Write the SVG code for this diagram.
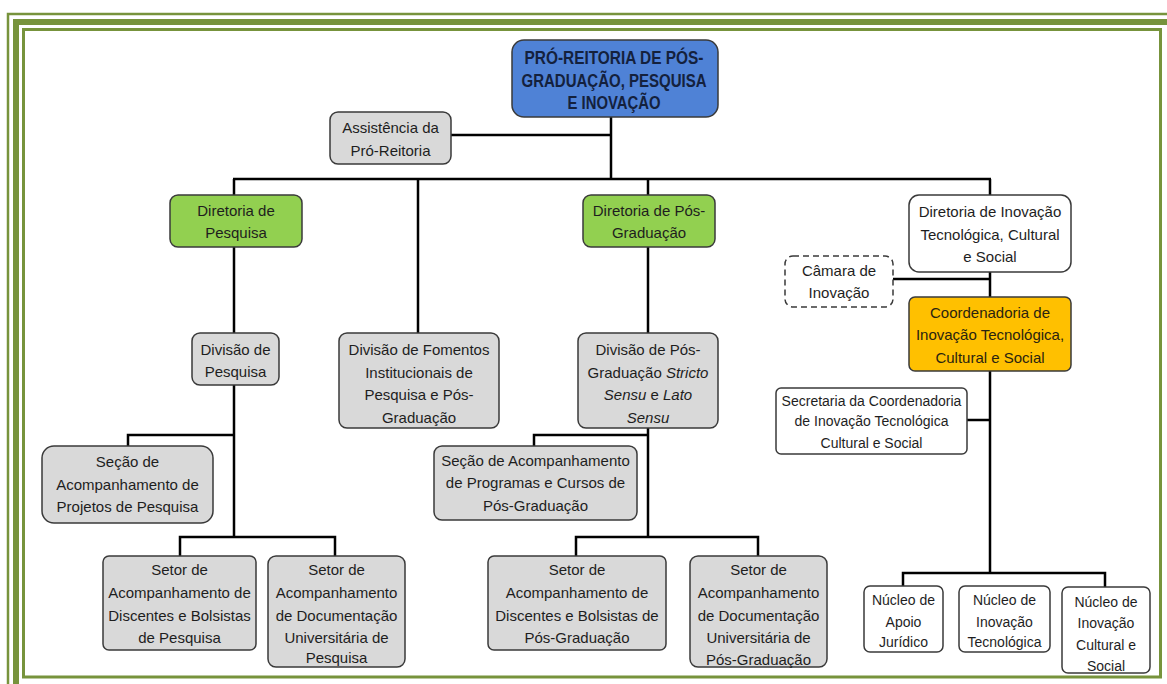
<svg xmlns="http://www.w3.org/2000/svg" width="1167" height="684" viewBox="0 0 1167 684">
<style>
.b{stroke:#3a3a3a;stroke-width:1.5}
.g{fill:#d9d9d9}
.w{fill:#ffffff}
.gr{fill:#92d050}
.t{font-family:"Liberation Sans",Arial,sans-serif;font-size:15px;fill:#1e1e1e;text-anchor:middle}
.s{font-size:14px}
.i{font-style:italic}
.c{stroke:#000;stroke-width:2.5;fill:none}
.brd{fill:none;stroke:#77933c}
</style>
<rect width="1167" height="684" fill="#ffffff"/>
<g id="border">
<path class="brd" d="M8,684 V14 H1167" stroke-width="2.5"/>
<path class="brd" d="M16,684 V22 H1167" stroke-width="6"/>
<path class="brd" d="M23.5,677 V29.5 H1160.5 V677 Z" stroke-width="3"/>
</g>
<g id="connectors">
<path class="c" d="M611,117 V180"/>
<path class="c" d="M451,135 H611"/>
<path class="c" d="M233,179 H991"/>
<path class="c" d="M234,179 V195 M418,179 V333 M648,179 V195 M990,179 V195"/>
<path class="c" d="M234,247 V333 M234,385 V537 M128,446 V435 H234 M180,556 V537 H335 V556"/>
<path class="c" d="M648,247 V333 M648,428 V537 M534,446 V435 H648 M576,556 V537 H758 V556"/>
<path class="c" d="M990,272 V297 M893,279 H990 M990,371 V573 M967,420 H990 M903,586 V573 H1105 V587"/>
</g>
<g id="n-pro-reitoria">
<rect x="512" y="40" width="206" height="77" rx="12" fill="#4f82d6" class="b"/>
<text class="t" style="font-weight:bold;font-size:18px;fill:#14213d"><tspan x="614" y="64" textLength="179" lengthAdjust="spacingAndGlyphs">PRÓ-REITORIA DE PÓS-</tspan><tspan x="614" y="87" textLength="185" lengthAdjust="spacingAndGlyphs">GRADUAÇÃO, PESQUISA</tspan><tspan x="614" y="109" textLength="93" lengthAdjust="spacingAndGlyphs">E INOVAÇÃO</tspan></text>
</g>
<g id="n-assistencia">
<rect x="330" y="112" width="121" height="52" rx="8" class="b g"/>
<text class="t"><tspan x="390.5" y="133">Assistência da</tspan><tspan x="390.5" y="156">Pró-Reitoria</tspan></text>
</g>
<g id="n-dir-pesquisa">
<rect x="170" y="195" width="132" height="52" rx="8" class="b gr"/>
<text class="t"><tspan x="236" y="216">Diretoria de</tspan><tspan x="236" y="238">Pesquisa</tspan></text>
</g>
<g id="n-div-pesquisa">
<rect x="192" y="333" width="87" height="52" rx="8" class="b g"/>
<text class="t"><tspan x="235.5" y="355">Divisão de</tspan><tspan x="235.5" y="377">Pesquisa</tspan></text>
</g>
<g id="n-div-fomentos">
<rect x="339" y="333" width="160" height="95" rx="8" class="b g"/>
<text class="t"><tspan x="419" y="355">Divisão de Fomentos</tspan><tspan x="419" y="378">Institucionais de</tspan><tspan x="419" y="400">Pesquisa e Pós-</tspan><tspan x="419" y="423">Graduação</tspan></text>
</g>
<g id="n-dir-pos">
<rect x="583" y="195" width="132" height="52" rx="8" class="b gr"/>
<text class="t"><tspan x="649" y="216">Diretoria de Pós-</tspan><tspan x="649" y="238">Graduação</tspan></text>
</g>
<g id="n-div-pos">
<rect x="578" y="333" width="140" height="95" rx="8" class="b g"/>
<text class="t"><tspan x="648" y="355">Divisão de Pós-</tspan><tspan x="648" y="378">Graduação <tspan class="i">Stricto</tspan></tspan><tspan x="648" y="400"><tspan class="i">Sensu</tspan> e <tspan class="i">Lato</tspan></tspan><tspan x="648" y="423" class="i">Sensu</tspan></text>
</g>
<g id="n-dir-inovacao">
<rect x="909" y="195" width="162" height="77" rx="10" class="b w"/>
<text class="t"><tspan x="990" y="217">Diretoria de Inovação</tspan><tspan x="990" y="240">Tecnológica, Cultural</tspan><tspan x="990" y="262">e Social</tspan></text>
</g>
<g id="n-camara">
<rect x="785" y="256" width="108" height="51" rx="8" class="w" stroke="#3a3a3a" stroke-width="1.5" stroke-dasharray="6,4"/>
<text class="t"><tspan x="839" y="276">Câmara de</tspan><tspan x="839" y="298">Inovação</tspan></text>
</g>
<g id="n-coordenadoria">
<rect x="909" y="297" width="162" height="74" rx="6" fill="#ffc000" class="b"/>
<text class="t" style="fill:#2a2410"><tspan x="990" y="318">Coordenadoria de</tspan><tspan x="990" y="340">Inovação Tecnológica,</tspan><tspan x="990" y="363">Cultural e Social</tspan></text>
</g>
<g id="n-secretaria">
<rect x="776" y="388" width="191" height="66" rx="5" class="b w"/>
<text class="t s"><tspan x="871.5" y="406">Secretaria da Coordenadoria</tspan><tspan x="871.5" y="426">de Inovação Tecnológica</tspan><tspan x="871.5" y="448">Cultural e Social</tspan></text>
</g>
<g id="n-secao-pesquisa">
<rect x="42" y="446" width="171" height="77" rx="12" class="b g"/>
<text class="t"><tspan x="127.5" y="467">Seção de</tspan><tspan x="127.5" y="490">Acompanhamento de</tspan><tspan x="127.5" y="512">Projetos de Pesquisa</tspan></text>
</g>
<g id="n-setor-disc-pesquisa">
<rect x="103" y="556" width="153" height="94" rx="6" class="b g"/>
<text class="t"><tspan x="179.5" y="575">Setor de</tspan><tspan x="179.5" y="598">Acompanhamento de</tspan><tspan x="179.5" y="621">Discentes e Bolsistas</tspan><tspan x="179.5" y="643">de Pesquisa</tspan></text>
</g>
<g id="n-setor-doc-pesquisa">
<rect x="268" y="556" width="137" height="111" rx="8" class="b g"/>
<text class="t"><tspan x="336.5" y="575">Setor de</tspan><tspan x="336.5" y="598">Acompanhamento</tspan><tspan x="336.5" y="621">de Documentação</tspan><tspan x="336.5" y="643">Universitária de</tspan><tspan x="336.5" y="663">Pesquisa</tspan></text>
</g>
<g id="n-secao-pos">
<rect x="434" y="446" width="203" height="74" rx="8" class="b g"/>
<text class="t"><tspan x="535.5" y="466">Seção de Acompanhamento</tspan><tspan x="535.5" y="488">de Programas e Cursos de</tspan><tspan x="535.5" y="511">Pós-Graduação</tspan></text>
</g>
<g id="n-setor-disc-pos">
<rect x="488" y="556" width="178" height="94" rx="6" class="b g"/>
<text class="t"><tspan x="577" y="575">Setor de</tspan><tspan x="577" y="598">Acompanhamento de</tspan><tspan x="577" y="621">Discentes e Bolsistas de</tspan><tspan x="577" y="643">Pós-Graduação</tspan></text>
</g>
<g id="n-setor-doc-pos">
<rect x="690" y="556" width="137" height="111" rx="8" class="b g"/>
<text class="t"><tspan x="758.5" y="575">Setor de</tspan><tspan x="758.5" y="598">Acompanhamento</tspan><tspan x="758.5" y="621">de Documentação</tspan><tspan x="758.5" y="643">Universitária de</tspan><tspan x="758.5" y="665">Pós-Graduação</tspan></text>
</g>
<g id="n-nucleo-juridico">
<rect x="864" y="586" width="79" height="66" rx="6" class="b w"/>
<text class="t s"><tspan x="903.5" y="605">Núcleo de</tspan><tspan x="903.5" y="627">Apoio</tspan><tspan x="903.5" y="647">Jurídico</tspan></text>
</g>
<g id="n-nucleo-tecnologica">
<rect x="959" y="586" width="91" height="66" rx="6" class="b w"/>
<text class="t s"><tspan x="1004.5" y="605">Núcleo de</tspan><tspan x="1004.5" y="627">Inovação</tspan><tspan x="1004.5" y="647">Tecnológica</tspan></text>
</g>
<g id="n-nucleo-cultural">
<rect x="1062" y="587" width="88" height="86" rx="6" class="b w"/>
<text class="t s"><tspan x="1106" y="607">Núcleo de</tspan><tspan x="1106" y="628">Inovação</tspan><tspan x="1106" y="650">Cultural e</tspan><tspan x="1106" y="671">Social</tspan></text>
</g>
</svg>
